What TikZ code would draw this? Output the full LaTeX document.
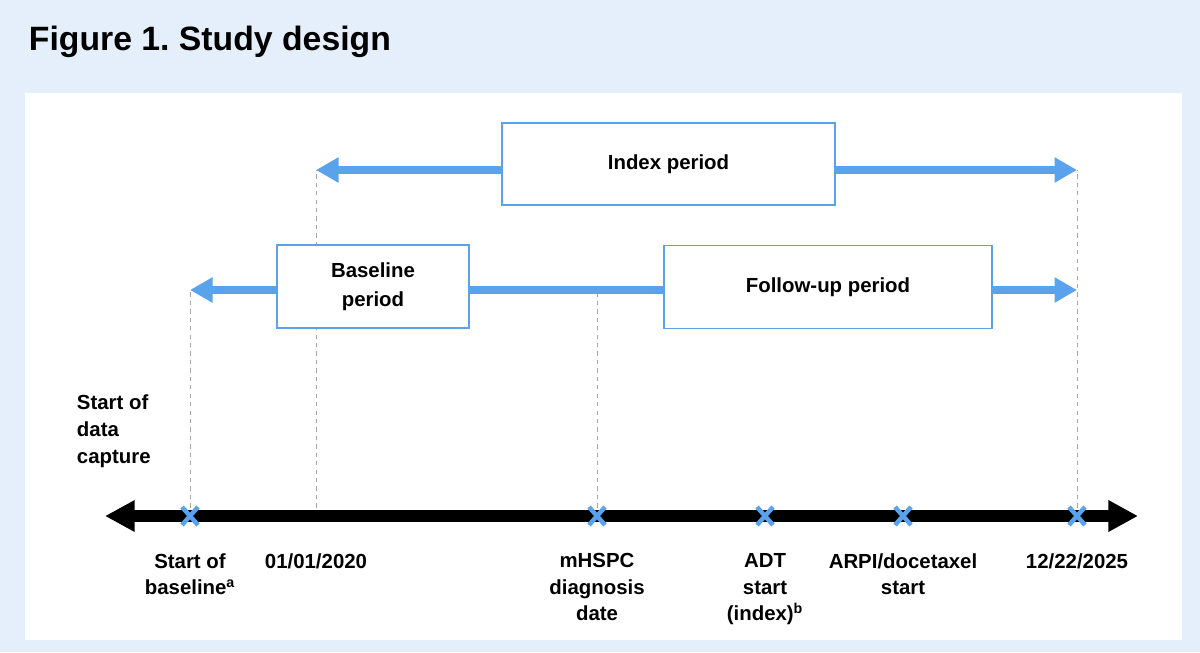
\documentclass[tikz,border=0pt]{standalone}
\usepackage{fontspec}
\setmainfont{Liberation Sans}
\usetikzlibrary{positioning, arrows.meta}
\definecolor{bgblue}{HTML}{E4EFFB}
\definecolor{lineblue}{HTML}{5AA2EC}
\frenchspacing
\begin{document}
\begin{tikzpicture}[
    x=0.025cm, y=-0.025cm,
    font=\bfseries\fontsize{14.5}{17}\selectfont,
    % Styles
    period/.style={% boxes for the periods
        rectangle,
        draw=lineblue,
        line width=1.2pt,
        fill=white,
        inner sep=0pt,
        },
    span/.style={% thick blue period arrows
        draw=lineblue,
        line width=5pt,
        },
    guide/.style={% dashed helper lines
        draw=gray!70,
        dashed,
        line width=0.6pt,
        },
    cross/.style={% blue crosses on the time line
        draw=lineblue,
        line width=3.2pt,
        },
    lbl/.style={% labels below the time line
        align=center,
        anchor=north,
        },
    ]
    % Background
    \fill[bgblue] (0,0) rectangle (1200,652);
    \useasboundingbox (0,0) rectangle (1200,652);
    \fill[white] (25,93) rectangle (1182,640);
    \node[anchor=west, font=\bfseries\fontsize{24}{28}\selectfont] (title) at (24,42) {Figure 1. Study design};

    % Time points on the line
    \coordinate (tl) at (105,516);
    \coordinate (tr) at (1138,516);
    \coordinate (t1) at (190,516);
    \coordinate (t2) at (316,516);
    \coordinate (t3) at (597,516);
    \coordinate (t4) at (765,516);
    \coordinate (t5) at (903,516);
    \coordinate (t6) at (1077,516);

    % Top ends of the helper lines
    \coordinate (u1) at (190,290);
    \coordinate (u2) at (316,170);
    \coordinate (u3) at (597,290);
    \coordinate (u6) at (1077,170);
    \coordinate (u7) at (1077,290);

    % Dashed helper lines
    \draw[guide] (t1) -- (u1);
    \draw[guide] (t2) -- (u2);
    \draw[guide] (t3) -- (u3);
    \draw[guide] (t6) -- (u6);

    % Time line
    \draw[line width=8.5pt, {Triangle[length=21pt, width=21pt]}-{Triangle[length=21pt, width=21pt]}] (tl) -- (tr);

    % Period boxes
    \node[period, minimum width=333*0.025cm, minimum height=82*0.025cm] (index) at (668.5,164) {Index period};
    \node[period, minimum width=192*0.025cm, minimum height=83*0.025cm, align=center] (base) at (373,286.5) {Baseline\\[4pt]period};
    \node[period, minimum width=328*0.025cm, minimum height=83*0.025cm] (follow) at (828,287) {Follow-up period};

    % Period arrows
    \draw[span, -{Triangle[length=16pt, width=17pt]}] (index.west |- u2) -- (u2);
    \draw[span, -{Triangle[length=16pt, width=17pt]}] (index.east |- u6) -- (u6);
    \draw[span, -{Triangle[length=16pt, width=17pt]}] (base.west |- u1) -- (u1);
    \draw[span] (base.east |- u3) -- (follow.west |- u3);
    \draw[span, -{Triangle[length=16pt, width=17pt]}] (follow.east |- u7) -- (u7);

    % Crosses
    \foreach \t in {t1,t3,t4,t5,t6}
        \draw[cross] ([shift={(-8,-9)}]\t) -- ([shift={(8,9)}]\t)
                     ([shift={(-8,9)}]\t) -- ([shift={(8,-9)}]\t);

    % Labels
    \node[align=left, anchor=north west] (capture) at (72,390) {Start of\\[2pt]data\\[2pt]capture};
    \node[lbl] (l1) at ([yshift=-23pt]t1) {Start of\\[2pt]baseline\textsuperscript{a}};
    \node[lbl] (l2) at ([yshift=-23pt]t2) {01/01/2020};
    \node[lbl] (l3) at ([yshift=-23pt]t3) {mHSPC\\[2pt]diagnosis\\[2pt]date};
    \node[lbl] (l4) at ([yshift=-23pt]t4) {ADT\\[2pt]start\\[2pt](index)\textsuperscript{b}};
    \node[lbl] (l5) at ([yshift=-23pt]t5) {ARPI/docetaxel\\[2pt]start};
    \node[lbl] (l6) at ([yshift=-23pt]t6) {12/22/2025};
\end{tikzpicture}
\end{document}
